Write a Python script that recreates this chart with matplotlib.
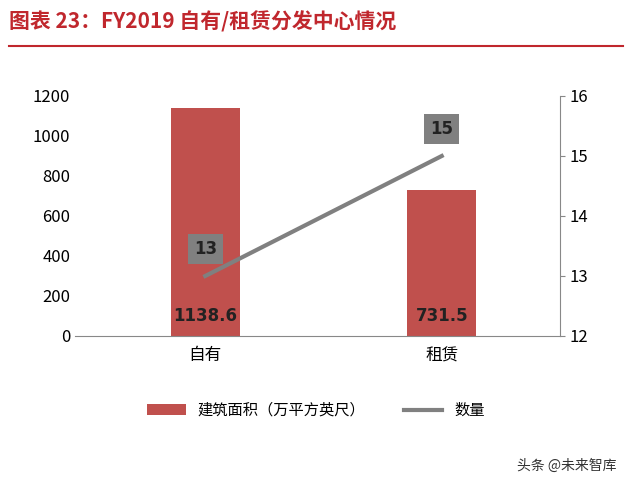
import matplotlib
matplotlib.use("Agg")
import matplotlib.pyplot as plt
plt.rcParams['font.family'] = ['Noto Sans CJK SC', 'DejaVu Sans']

categories = ['自有', '租赁']
area = [1138.6, 731.5]
count = [13, 15]

fig = plt.figure(figsize=(6.32, 4.8), dpi=100)
fig.text(0.015, 0.955, '图表 23：FY2019 自有/租赁分发中心情况', color='#c0272d',
         fontsize=15, fontweight='bold', style='italic', va='center')
fig.add_artist(plt.Line2D([0.015, 0.985], [0.905, 0.905], color='#c0272d', lw=1.5))

ax = fig.add_axes([0.119, 0.30, 0.767, 0.50])
x = range(len(categories))
bars = ax.bar(x, area, width=0.29, color='#c0504d', label='建筑面积（万平方英尺）')
ax.set_ylim(0, 1200)
ax.set_yticks(range(0, 1201, 200))
ax.set_xlim(-0.55, 1.5)
ax.set_xticks(list(x))
ax.set_xticklabels(categories)
for i, v in enumerate(area):
    ax.text(i, 100, f'{v}', ha='center', va='center', fontsize=12, fontweight='bold',
            color='#222222', family='DejaVu Sans')
for s in ['top', 'left', 'right']:
    ax.spines[s].set_visible(False)
ax.spines['bottom'].set_color('#888888')
ax.tick_params(axis='y', length=0, labelsize=12)
ax.tick_params(axis='x', length=0, labelsize=12, pad=8)

ax2 = ax.twinx()
ln, = ax2.plot(list(x), count, color='#808080', lw=3, label='数量')
ax2.set_ylim(12, 16)
ax2.set_yticks(range(12, 17))
for s in ['top', 'left', 'bottom']:
    ax2.spines[s].set_visible(False)
ax2.spines['right'].set_color('#888888')
ax2.tick_params(axis='y', labelsize=12, color='#888888')
for i, v in enumerate(count):
    ax2.text(i, v + 0.45, str(v), ha='center', va='center', fontsize=12, fontweight='bold',
             color='#222222', family='DejaVu Sans',
             bbox=dict(boxstyle='square,pad=0.35', fc='#808080', ec='none'))

fig.legend([bars, ln], ['建筑面积（万平方英尺）', '数量'], loc='center', bbox_to_anchor=(0.5, 0.145),
           ncol=2, frameon=False, fontsize=11, handlelength=2.5, columnspacing=2.5)
fig.text(0.975, 0.03, '头条 @未来智库', ha='right', va='center', fontsize=10, color='#333333')
fig.savefig('out.png', dpi=100)
